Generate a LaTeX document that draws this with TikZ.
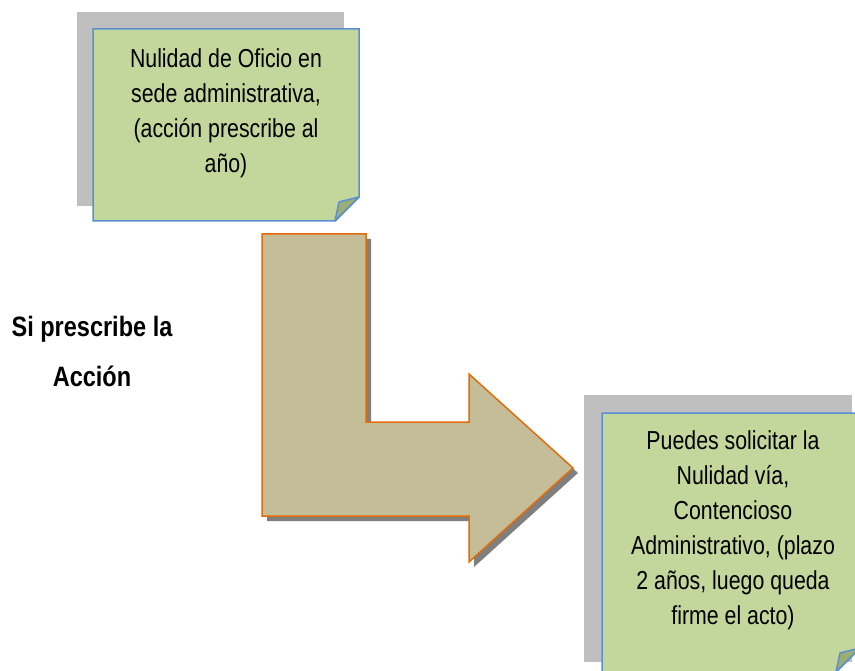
\documentclass[tikz,border=0pt]{standalone}
\usepackage{fontspec}
\newfontfamily\nar[FakeStretch=0.82]{Liberation Sans}
\newfontfamily\narb[FakeStretch=0.84]{Liberation Sans Bold}
\definecolor{notegreen}{HTML}{C3D69B}
\definecolor{foldgreen}{HTML}{9CAE72}
\definecolor{noteblue}{HTML}{5B8FD3}
\definecolor{shadowgray}{HTML}{BFBFBF}
\definecolor{arrowtan}{HTML}{C4BD97}
\definecolor{arroworange}{HTML}{E36C09}
\definecolor{arrowshadow}{HTML}{7F7F7F}
\tikzset{
  note/.style={fill=notegreen, draw=noteblue, line width=1.5pt, line join=miter},
  fold/.style={fill=foldgreen, draw=noteblue, line width=1.5pt, line join=round},
  back/.style={fill=shadowgray, draw=none},
  bent/.style={fill=arrowtan, draw=arroworange, line width=1.5pt, line join=miter},
  bentshadow/.style={fill=arrowshadow, draw=none},
  notetext/.style={align=center, inner sep=0pt, anchor=north, text=black,
    font=\nar\fontsize{26}{35}\selectfont},
  sidetext/.style={align=center, inner sep=0pt, anchor=north, text=black,
    font=\narb\fontsize{28}{50}\selectfont}
}
\begin{document}
\begin{tikzpicture}[x=1pt,y=-1pt]
\useasboundingbox (0,0) rectangle (855,671);
\clip (0,0) rectangle (855,671);
% top note
\fill[back] (77,12) rectangle (344,206);
\draw[note] (93,29) -- (359,29) -- (359,197) -- (335,221) -- (93,221) -- cycle;
\draw[fold] (335,221) -- (339,202) -- (359,197) -- cycle;
\node[notetext] (top) at (226,48) {Nulidad de Oficio en\\sede administrativa,\\(acción prescribe al\\año)};
% bent arrow
\fill[bentshadow, shift={(5,5)}] (262,234) -- (366,234) -- (366,422) -- (469,422) -- (469,374) -- (573,468) -- (469,562) -- (469,516) -- (262,516) -- cycle;
\draw[bent] (262,234) -- (366,234) -- (366,422) -- (469,422) -- (469,374) -- (573,468) -- (469,562) -- (469,516) -- (262,516) -- cycle;
% side label
\node[sidetext] (cond) at (92,316) {Si prescribe la\\Acción};
% bottom note
\fill[back] (584,395) rectangle (852,662);
\draw[note] (602,413) -- (860,413) -- (860,648) -- (836,672) -- (602,672) -- cycle;
\draw[fold] (836,672) -- (840,653) -- (860,648) -- cycle;
\node[notetext] (bottom) at (733,430) {Puedes solicitar la\\Nulidad vía,\\Contencioso\\Administrativo, (plazo\\2 años, luego queda\\firme el acto)};
\end{tikzpicture}
\end{document}
